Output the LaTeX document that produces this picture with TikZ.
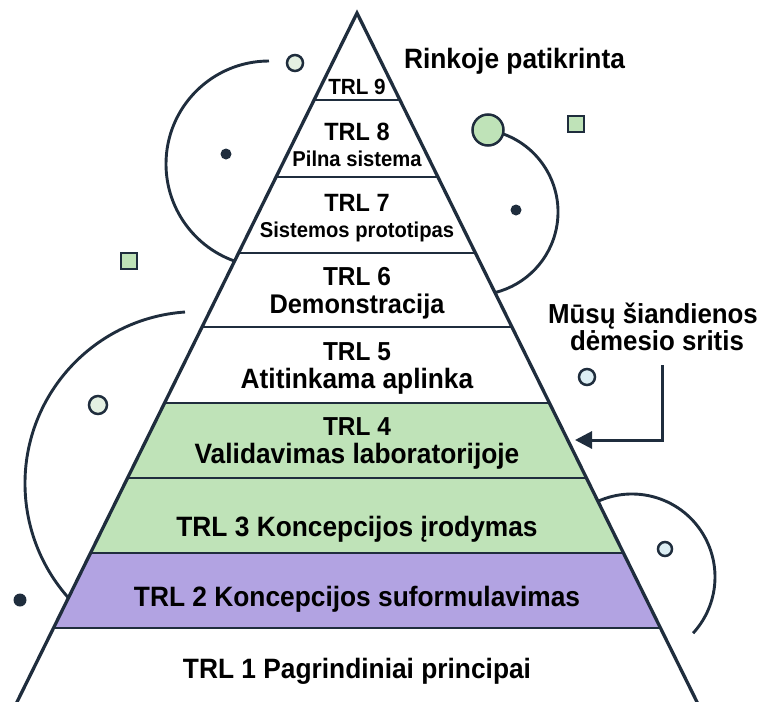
\documentclass[tikz,border=0pt]{standalone}
\usepackage{fontspec}
\setmainfont[FakeStretch=0.94]{Liberation Sans}
\usetikzlibrary{calc,arrows.meta}
\definecolor{ink}{HTML}{1F2D3D}
\definecolor{labgreen}{HTML}{BFE3B8}
\definecolor{conceptpurple}{HTML}{B2A3E2}
\definecolor{palegreen}{HTML}{E4F0E2}
\definecolor{paleblue}{HTML}{DCEEF4}

\begin{document}
\begin{tikzpicture}[x=1pt,y=-1pt,
  outline/.style={draw=ink,line width=3.3pt},
  rule/.style={draw=ink,line width=2.8pt},
  deco/.style={draw=ink,line width=2.9pt},
  dot/.style={circle,fill=ink,inner sep=0pt},
  ring/.style={circle,draw=ink,line width=2.5pt,inner sep=0pt},
  tag/.style={draw=ink,line width=2.5pt,fill=labgreen,inner sep=0pt,minimum size=16pt},
  lbl/.style={inner sep=0pt,anchor=base,text=black},
  big/.style={lbl,font=\bfseries\fontsize{28}{30}\selectfont},
  head/.style={lbl,font=\bfseries\fontsize{26}{28}\selectfont},
  small/.style={lbl,font=\bfseries\fontsize{21.5}{24}\selectfont},
]
\useasboundingbox (0,0) rectangle (764,702);

% decorative arcs, partly hidden behind the pyramid
\draw[deco] (269,61) arc[start angle=270,end angle=105,radius=103];
\draw[deco] ($(475,212)+(-75:83)$) arc[start angle=-75,end angle=80,radius=83];
\draw[deco] (185,312) arc[start angle=266,end angle=136,radius=172];
\draw[deco] ($(632,577)+(242:83)$) arc[start angle=242,end angle=402.6,radius=83];

% small decorations
\node[dot,minimum size=11pt] (d1) at (226,154) {};
\node[dot,minimum size=11pt] (d2) at (516,210) {};
\node[dot,minimum size=13pt] (d3) at (20,600) {};
\node[ring,fill=palegreen,minimum size=16pt] (c1) at (295,63) {};
\node[ring,fill=labgreen,minimum size=31pt] (c2) at (488,130) {};
\node[ring,fill=palegreen,minimum size=18pt] (c3) at (98,405) {};
\node[ring,fill=paleblue,minimum size=16pt] (c4) at (587,377) {};
\node[ring,fill=paleblue,minimum size=14pt] (c5) at (665,549) {};
\node[tag] (s1) at (576,124) {};
\node[tag] (s2) at (129,261) {};

% pyramid
\coordinate (apex) at (357,13);
\coordinate (bl) at (17,702);
\coordinate (br) at (697,702);
\foreach \yy [count=\i] in {100,177,253,327,403,478,553,628} {
  \pgfmathsetmacro\t{(\yy-13)/689}
  \coordinate (L\i) at ($(apex)!\t!(bl)$);
  \coordinate (R\i) at ($(apex)!\t!(br)$);
}
\fill[white] (apex) -- ($(apex)!1.02!(bl)$) -- ($(apex)!1.02!(br)$) -- cycle;
\fill[labgreen] (L5) -- (R5) -- (R7) -- (L7) -- cycle;
\fill[conceptpurple] (L7) -- (R7) -- (R8) -- (L8) -- cycle;
\foreach \i in {1,...,8} \draw[rule] (L\i) -- (R\i);
\draw[outline,line join=miter] ($(apex)!1.02!(bl)$) -- (apex) -- ($(apex)!1.02!(br)$);

% level labels
\node[lbl,font=\bfseries\fontsize{22}{24}\selectfont] (t9) at (357,94.5) {TRL 9};
\node[lbl,font=\bfseries\fontsize{25}{27}\selectfont] (t8) at (357,140) {TRL 8};
\node[small] (t8b) at (357,166.5) {Pilna sistema};
\node[lbl,font=\bfseries\fontsize{25}{27}\selectfont] (t7) at (357,211) {TRL 7};
\node[small] (t7b) at (357,237.5) {Sistemos prototipas};
\node[head] (t6) at (357,285) {TRL 6};
\node[big,font=\bfseries\fontsize{27}{29}\selectfont] (t6b) at (357,313) {Demonstracija};
\node[head] (t5) at (357,360) {TRL 5};
\node[big] (t5b) at (357,388) {Atitinkama aplinka};
\node[head] (t4) at (357,435) {TRL 4};
\node[big] (t4b) at (357,463) {Validavimas laboratorijoje};
\node[big] (t3) at (357,536) {TRL 3 Koncepcijos įrodymas};
\node[big] (t2) at (357,606) {TRL 2 Koncepcijos suformulavimas};
\node[big] (t1) at (357,678) {TRL 1 Pagrindiniai principai};

% side notes
\node[big] (market) at (514.5,68) {Rinkoje patikrinta};
\node[big,font=\bfseries\fontsize{27.5}{29}\selectfont] (focus1) at (653,323) {Mūsų šiandienos};
\node[big,font=\bfseries\fontsize{27.5}{29}\selectfont] (focus2) at (657,350) {dėmesio sritis};

% pointer to the current focus level
\coordinate (ptrstart) at (662,365);
\coordinate (ptrend) at (575,440);
\draw[draw=ink,line width=3pt,-{Triangle[length=17pt,width=17pt]},line join=miter]
  (ptrstart) |- (ptrend);
\end{tikzpicture}
\end{document}
